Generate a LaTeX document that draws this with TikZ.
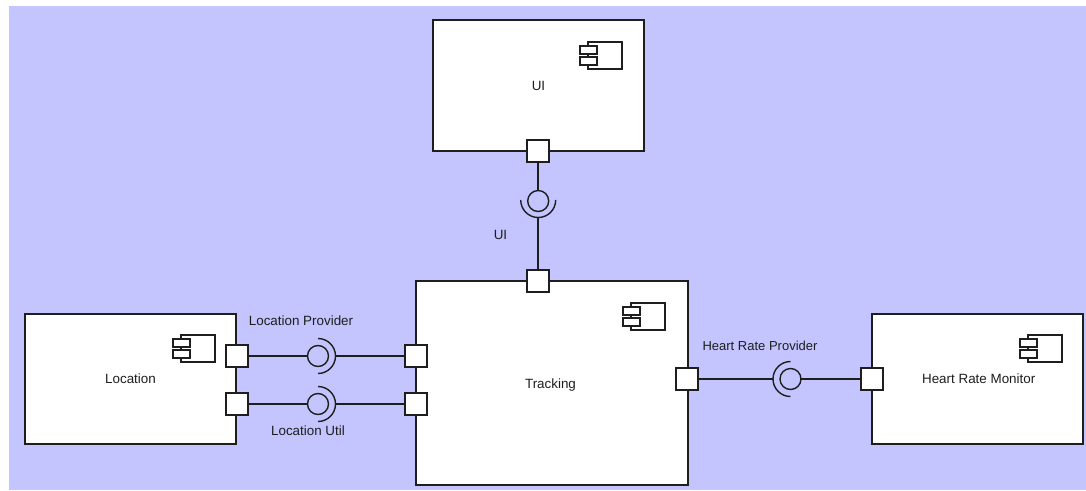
\documentclass[tikz,border=0pt]{standalone}
\usepackage{fontspec}
\setmainfont{Liberation Sans}
\definecolor{bgc}{RGB}{196,196,255}
\definecolor{ink}{RGB}{30,30,30}
\tikzset{
  x=1pt,y=-1pt,
  every node/.style={font=\fontsize{13.4}{15}\selectfont,text=ink},
  compbox/.style={draw=ink,line width=1.9pt,fill=white,rectangle,inner sep=0pt,outer sep=0pt},
  portbox/.style={draw=ink,line width=1.9pt,fill=white,rectangle,inner sep=0pt,outer sep=0pt,minimum size=22pt},
  ifcircle/.style={draw=ink,line width=1.4pt,circle,inner sep=0pt,outer sep=0pt,minimum size=21pt},
  ifarc/.style={draw=ink,line width=1.4pt},
  conn/.style={draw=ink,line width=1.9pt},
  icon/.style={draw=ink,line width=1.6pt,fill=white},
  lbl/.style={inner sep=0pt}
}
\newcommand{\compicon}[2]{%
  \draw[icon] (#1,#2) rectangle ++(34,27);
  \draw[icon] (#1-8,#2+4) rectangle ++(17,8);
  \draw[icon] (#1-8,#2+15) rectangle ++(17,8);
}
\begin{document}
\begin{tikzpicture}
\useasboundingbox (0,0) rectangle (1086,490);
\fill[white] (0,0) rectangle (1086,490);
\fill[bgc] (9,6) rectangle (1086,490);
% components
\node[compbox,minimum width=211pt,minimum height=131pt] (ui) at (538.5,85.5) {UI};
\node[compbox,minimum width=272pt,minimum height=204pt] (tracking) at (552,383) {\hspace*{-3pt}\raisebox{-5pt}[0pt][0pt]{Tracking}};
\node[compbox,minimum width=211pt,minimum height=130pt] (location) at (130.5,379) {Location};
\node[compbox,minimum width=211pt,minimum height=130pt] (hrm) at (977.2,379) {\hspace*{3pt}Heart Rate Monitor};
% icons
\compicon{588}{42}
\compicon{631}{303}
\compicon{181}{335}
\compicon{1028}{335}
% ports
\node[portbox] (puiA) at (538.2,151) {};
\node[portbox] (puiB) at (538.2,281) {};
\node[portbox] (plocA) at (237.2,356) {};
\node[portbox] (plocB) at (237.2,404) {};
\node[portbox] (ptrA) at (416,356) {};
\node[portbox] (ptrB) at (416,404) {};
\node[portbox] (ptrC) at (687.2,379) {};
\node[portbox] (phrm) at (872,379) {};
% interfaces
\node[ifcircle] (iui) at (538.2,201) {};
\node[ifcircle] (ilp) at (318,356) {};
\node[ifcircle] (ilu) at (318,404) {};
\node[ifcircle] (ihr) at (790.5,379) {};
\coordinate (aui) at (538.2,217);
\coordinate (alp) at (335.5,356);
\coordinate (alu) at (335.5,404);
\coordinate (ahr) at (773,379);
\draw[ifarc] (520.7,200) arc[start angle=180,end angle=0,radius=17.5,y=-1pt];
\draw[ifarc] (318,338.5) arc[start angle=-90,end angle=90,radius=17.5];
\draw[ifarc] (318,386.5) arc[start angle=-90,end angle=90,radius=17.5];
\draw[ifarc] (790.5,361.5) arc[start angle=270,end angle=90,radius=17.5];
% connectors
\draw[conn] (puiA) -- (iui);
\draw[conn] (aui) -- (puiB);
\draw[conn] (plocA) -- (ilp);
\draw[conn] (alp) -- (ptrA);
\draw[conn] (plocB) -- (ilu);
\draw[conn] (alu) -- (ptrB);
\draw[conn] (ptrC) -- (ahr);
\draw[conn] (ihr) -- (phrm);
% labels
\node[lbl] (lui) at (500.5,235) {UI};
\node[lbl] (llp) at (301,321) {Location Provider};
\node[lbl] (llu) at (308,431) {Location Util};
\node[lbl,font=\fontsize{13}{15}\selectfont] (lhr) at (760,345.5) {Heart Rate Provider};
\end{tikzpicture}
\end{document}
